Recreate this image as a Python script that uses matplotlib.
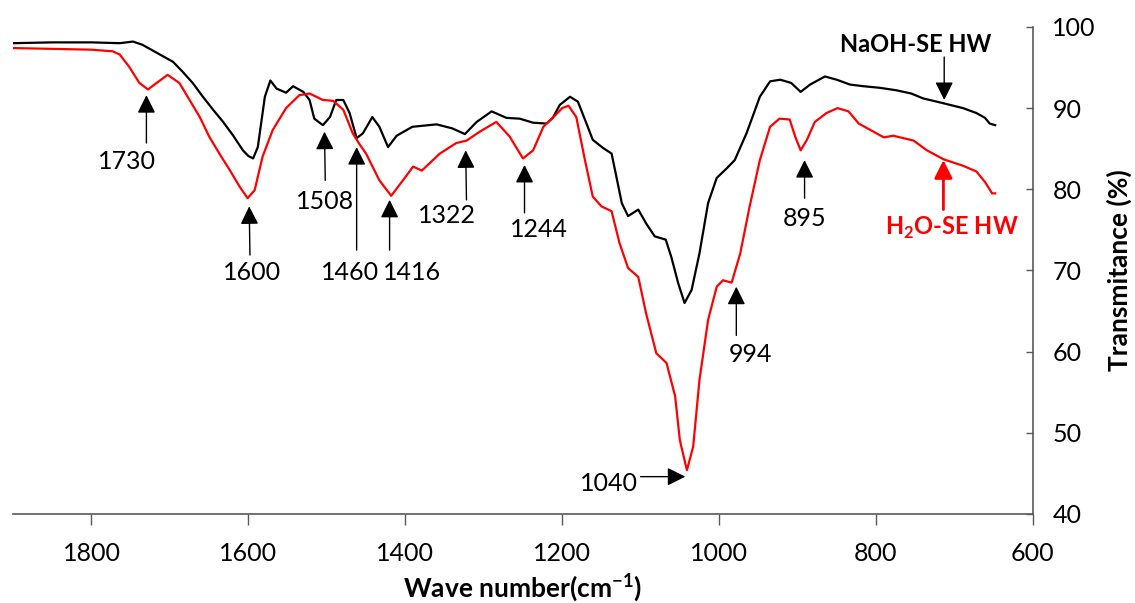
import matplotlib.pyplot as plt
import matplotlib as mpl

mpl.rcParams['font.family'] = ['Lato', 'DejaVu Sans']
mpl.rcParams['mathtext.fontset'] = 'custom'
mpl.rcParams['mathtext.rm'] = 'Lato'
mpl.rcParams['mathtext.bf'] = 'Lato:bold'

# NaOH-SE HW (black)
wn_naoh = [1900, 1850, 1800, 1764, 1747, 1735, 1722, 1709, 1696, 1684, 1671, 1658, 1645, 1633,
           1620, 1607, 1600, 1594, 1588, 1579, 1572, 1564, 1552, 1543, 1530, 1522, 1516, 1505,
           1496, 1488, 1479, 1471, 1462, 1454, 1442, 1433, 1422, 1411, 1391, 1360, 1340, 1324,
           1309, 1290, 1271, 1254, 1237, 1220, 1212, 1203, 1190, 1180, 1169, 1161, 1148, 1137,
           1131, 1124, 1116, 1103, 1093, 1082, 1068, 1061, 1052, 1044, 1035, 1025, 1014, 1003,
           990, 980, 965, 948, 935, 922, 908, 896, 884, 865, 850, 833, 816, 795, 774, 755, 740,
           714, 689, 672, 661, 655, 648]
t_naoh = [98.0, 98.1, 98.1, 98.0, 98.2, 97.8, 97.1, 96.4, 95.7, 94.5, 93.1, 91.4, 89.8, 88.4,
          86.7, 84.8, 84.1, 83.8, 85.2, 91.4, 93.4, 92.4, 91.9, 92.7, 92.0, 91.0, 88.7, 87.9,
          88.9, 91.0, 91.0, 89.4, 86.3, 86.9, 88.9, 87.7, 85.2, 86.6, 87.7, 88.0, 87.5, 86.8,
          88.3, 89.6, 88.8, 88.7, 88.2, 88.1, 88.8, 90.4, 91.4, 90.8, 88.1, 86.1, 85.1, 84.4,
          81.6, 78.3, 76.7, 77.5, 75.8, 74.2, 73.8, 71.7, 68.4, 66.0, 67.6, 72.1, 78.3, 81.4,
          82.6, 83.6, 86.9, 91.4, 93.3, 93.5, 93.1, 92.0, 92.9, 93.9, 93.5, 92.9, 92.7, 92.5,
          92.2, 91.8, 91.2, 90.6, 90.0, 89.4, 88.8, 88.1, 87.9]

# H2O-SE HW (red)
wn_h2o = [1900, 1800, 1773, 1764, 1752, 1739, 1728, 1717, 1703, 1688, 1675, 1662, 1650, 1637,
          1624, 1611, 1601, 1592, 1582, 1569, 1552, 1535, 1522, 1505, 1492, 1479, 1467, 1458,
          1450, 1433, 1418, 1403, 1390, 1379, 1356, 1335, 1322, 1305, 1284, 1267, 1250, 1237,
          1224, 1210, 1200, 1192, 1182, 1171, 1161, 1150, 1137, 1127, 1116, 1103, 1093, 1080,
          1067, 1056, 1050, 1041, 1033, 1025, 1014, 1003, 995, 984, 973, 961, 948, 935, 923,
          910, 903, 896, 888, 878, 863, 849, 835, 822, 807, 790, 778, 752, 735, 714, 689, 672,
          661, 652, 648]
t_h2o = [97.4, 97.2, 97.0, 96.6, 95.1, 93.1, 92.3, 93.1, 94.1, 93.1, 91.0, 88.9, 86.5, 84.4,
         82.4, 80.3, 78.9, 79.9, 84.0, 87.3, 90.0, 91.6, 91.8, 91.0, 90.9, 89.8, 86.9, 85.5,
         84.4, 81.1, 79.2, 81.1, 82.8, 82.3, 84.4, 85.7, 86.0, 87.1, 88.3, 86.5, 83.8, 84.8,
         87.7, 89.0, 90.0, 90.3, 88.9, 83.6, 79.1, 77.9, 77.3, 73.4, 70.3, 69.2, 64.7, 59.8,
         58.6, 54.5, 49.1, 45.4, 48.3, 56.5, 63.9, 68.0, 68.8, 68.5, 72.1, 77.9, 83.6, 87.7,
         88.7, 88.6, 86.5, 84.8, 86.1, 88.3, 89.4, 90.0, 89.6, 88.1, 87.3, 86.4, 86.6, 86.0,
         84.8, 83.7, 82.9, 82.2, 80.9, 79.5, 79.5]

# peak labels: text, (tip x, tip y), (tail x, tail y), (label x, label y)
peaks = [
    ('1730', (1730, 91.6), (1730, 85.7), (1755, 83.4)),
    ('1600', (1599, 77.9), (1598, 71.9), (1596, 69.7)),
    ('1508', (1503, 87.1), (1502, 81.1), (1502, 78.5)),
    ('1460', (1462, 85.2), (1462, 72.5), (1471, 69.8)),
    ('1416', (1420, 78.7), (1420, 72.5), (1392, 69.8)),
    ('1322', (1323, 84.8), (1322, 78.7), (1347, 76.8)),
    ('1244', (1248, 83.0), (1248, 77.1), (1229, 75.1)),
    ('895', (891, 83.6), (891, 78.9), (891, 76.4)),
    ('994', (978, 68.0), (978, 62.0), (960, 59.6)),
]

fig = plt.figure(figsize=(11.35, 6.03), dpi=100)
ax = fig.add_axes([0.0115, 0.1476, 0.8985, 0.8077])

ax.plot(wn_naoh, t_naoh, color='black', lw=1.6, solid_joinstyle='round')
ax.plot(wn_h2o, t_h2o, color='#FF0000', lw=1.6, solid_joinstyle='round')

ax.set_xlim(1900, 600)
ax.set_ylim(40, 100)

arrow_kw = dict(arrowstyle='-|>,head_length=1.1,head_width=0.55', color='black',
                lw=1.0, shrinkA=0, shrinkB=0, mutation_scale=10)

for txt, tip, tail, lab in peaks:
    ax.annotate('', xy=tip, xytext=tail, arrowprops=arrow_kw)
    ax.text(lab[0], lab[1], txt, ha='center', va='center', fontsize=18)

# 1040 horizontal arrow
ax.annotate('', xy=(1043, 44.6), xytext=(1100, 44.6), arrowprops=arrow_kw)
ax.text(1103, 43.8, '1040', ha='right', va='center', fontsize=18)

# series labels
ax.annotate('', xy=(713, 91.0), xytext=(713, 96.3), arrowprops=arrow_kw)
ax.text(749, 97.8, 'NaOH-SE HW', ha='center', va='center', fontsize=17, fontweight='bold')

red_kw = dict(arrow_kw)
red_kw['color'] = '#FF0000'
red_kw['lw'] = 2.0
ax.annotate('', xy=(714, 83.6), xytext=(714, 77.5), arrowprops=red_kw)
ax.text(703, 75.2, r'H$_\mathbf{2}$O-SE HW', ha='center', va='center', fontsize=17,
        fontweight='bold', color='#FF0000')

# axes styling
for s in ['left', 'top']:
    ax.spines[s].set_visible(False)
for s in ['bottom', 'right']:
    ax.spines[s].set_color('#595959')
    ax.spines[s].set_linewidth(1.2)

ax.yaxis.tick_right()
ax.yaxis.set_label_position('right')
ax.set_xticks([1800, 1600, 1400, 1200, 1000, 800, 600])
ax.set_yticks([40, 50, 60, 70, 80, 90, 100])
ax.tick_params(axis='x', direction='out', length=8, width=1, color='#595959',
               labelsize=18, pad=12)
ax.tick_params(axis='y', direction='in', length=5, width=1, color='#595959',
               labelsize=18, pad=14)

ax.set_xlabel('Wave number(cm$^{\\mathbf{-1}}$)', fontsize=19, fontweight='bold', labelpad=5)
ax.set_ylabel('Transmitance (%)', fontsize=19, fontweight='bold', labelpad=8)

plt.savefig('out.png', dpi=100)
